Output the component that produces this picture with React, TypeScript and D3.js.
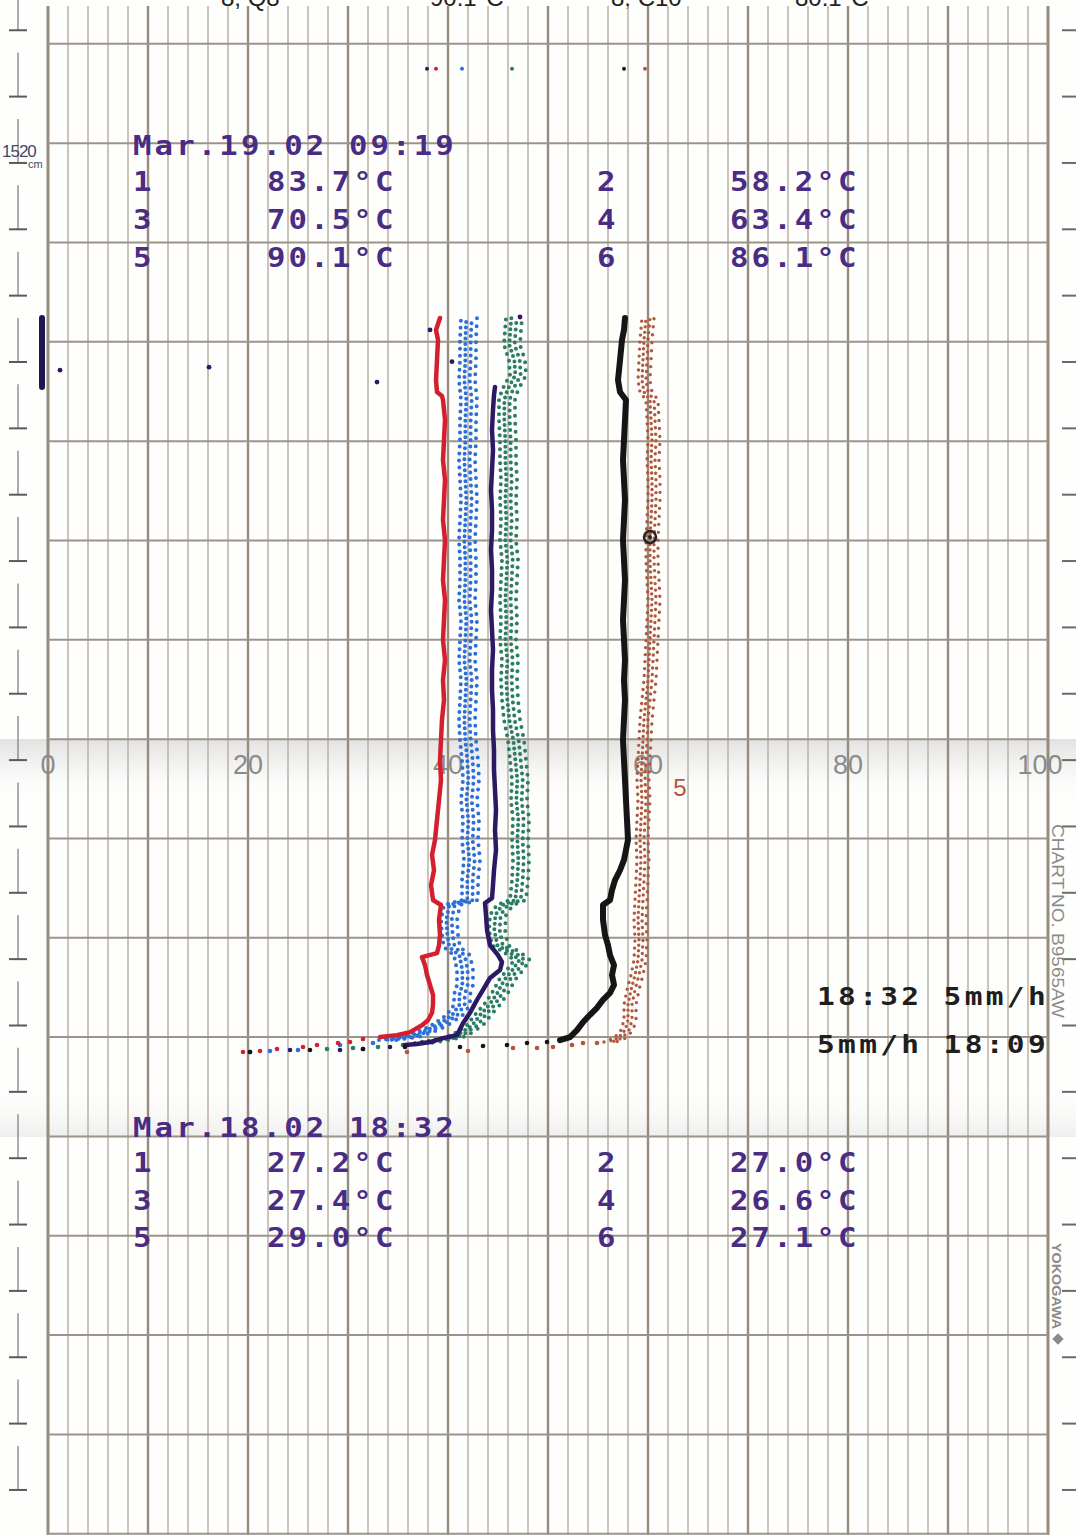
import React from "react";
import * as d3 from "d3";

const WIDTH = 1076;
const HEIGHT = 1535;

// [hours after the 18:32 start, chart span %]
type Pt = [number, number];

const scaleLabels = [0, 20, 40, 60, 80, 100];

const endStamp = "Mar.19.02 09:19";
const endReadings = [
  ["1", "83.7°C"], ["2", "58.2°C"],
  ["3", "70.5°C"], ["4", "63.4°C"],
  ["5", "90.1°C"], ["6", "86.1°C"],
];
const startStamp = "Mar.18.02 18:32";
const startReadings = [
  ["1", "27.2°C"], ["2", "27.0°C"],
  ["3", "27.4°C"], ["4", "26.6°C"],
  ["5", "29.0°C"], ["6", "27.1°C"],
];
const speedLines = ["18:32 5mm/h", "5mm/h 18:09"];
const cutOffTexts = ["8, Q8", "90.1°C", "8, C10", "80.1°C"];

// sparse samples of the fast warm-up at the start
const redStart: Pt[] = [[0, 19.5], [0.02, 21.2], [0.06, 22.9], [0.1, 25.5], [0.14, 26.9], [0.18, 29.0], [0.2, 30.2], [0.26, 31.5]];
const red: Pt[] = [
  [0.3, 33.2], [0.34, 34.9], [0.4, 36.2], [0.54, 37.4], [0.64, 38.0], [0.79, 38.4], [0.95, 38.5], [1.15, 38.5],
  [1.35, 38.2], [1.55, 37.9], [1.75, 37.7], [1.91, 37.4], [1.99, 38.9], [2.15, 39.1], [2.36, 39.2], [2.66, 39.1],
  [2.96, 39.3], [3.06, 38.5], [3.36, 38.3], [3.66, 38.6], [3.97, 38.4], [4.27, 38.7], [4.67, 38.9], [5.07, 39.1],
  [5.48, 39.3], [5.88, 39.2], [6.28, 39.3], [6.69, 39.4], [7.09, 39.6], [7.49, 39.5], [7.89, 39.7], [8.3, 39.5],
  [8.7, 39.6], [9.1, 39.7], [9.5, 39.5], [9.91, 39.6], [10.31, 39.7], [10.71, 39.5], [11.12, 39.6], [11.52, 39.7],
  [11.92, 39.5], [12.32, 39.6], [12.73, 39.7], [13.13, 39.5], [13.21, 39.4], [13.29, 38.9], [13.53, 38.8],
  [13.93, 38.9], [14.34, 39.0], [14.54, 38.8], [14.78, 39.2],
];

const blueStart: Pt[] = [[0.02, 22.2], [0.04, 25.0], [0.14, 29.2], [0.18, 32.5]];
const blue: Pt[] = [
  [0.24, 33.9], [0.3, 36.2], [0.44, 38.2], [0.58, 39.5], [0.75, 40.7], [0.95, 41.4], [1.15, 41.4], [1.35, 41.7],
  [1.65, 41.7], [1.95, 41.4], [2.11, 40.4], [2.36, 40.2], [2.66, 40.1], [2.96, 40.4], [3.06, 42.2], [3.46, 42.2],
  [3.87, 42.4], [4.27, 42.2], [4.67, 42.3], [5.07, 42.1], [5.48, 42.3], [5.88, 42.2], [6.28, 42.0], [6.69, 41.9],
  [7.09, 42.0], [7.49, 42.1], [7.89, 41.9], [8.3, 42.0], [8.7, 42.1], [9.1, 41.9], [9.5, 42.0], [9.91, 42.0],
  [10.31, 41.9], [10.71, 42.0], [11.12, 42.1], [11.52, 42.0], [11.92, 41.9], [12.32, 42.0], [12.73, 42.0],
  [13.13, 42.1], [13.53, 41.9], [13.93, 42.0], [14.34, 42.0], [14.78, 42.1],
];

const greenStart: Pt[] = [[0.06, 27.9], [0.08, 30.5], [0.1, 33.0], [0.14, 35.5]];
const green: Pt[] = [
  [0.18, 37.5], [0.24, 39.2], [0.3, 40.7], [0.38, 41.5], [0.54, 42.7], [0.75, 43.5], [0.95, 44.4], [1.19, 45.2],
  [1.45, 45.9], [1.65, 46.7], [1.85, 47.4], [2.01, 46.4], [2.15, 45.2], [2.46, 44.9], [2.76, 45.0], [2.96, 45.7],
  [3.06, 47.0], [3.46, 47.2], [3.87, 47.3], [4.27, 47.2], [4.67, 47.3], [5.07, 47.1], [5.48, 47.2], [5.88, 47.0],
  [6.28, 46.8], [6.69, 46.4], [7.09, 46.2], [7.49, 46.1], [7.89, 46.2], [8.3, 46.0], [8.7, 46.1], [9.1, 46.0],
  [9.5, 46.1], [9.91, 46.2], [10.31, 46.0], [10.71, 46.1], [11.12, 46.0], [11.52, 46.1], [11.92, 46.0],
  [12.32, 46.0], [12.73, 45.9], [13.13, 45.9], [13.33, 46.2], [13.63, 47.0], [13.93, 46.9], [14.24, 46.4],
  [14.54, 46.5], [14.78, 46.6],
];

const purpleStart: Pt[] = [[0, 20.2], [0.04, 24.2], [0.04, 29.2], [0.06, 31.5], [0.1, 34.2]];
const purple: Pt[] = [
  [0.14, 35.7], [0.16, 36.9], [0.2, 38.2], [0.28, 39.5], [0.34, 40.9], [0.58, 41.5], [0.79, 42.2], [1.05, 42.9],
  [1.25, 43.5], [1.49, 44.2], [1.65, 45.2], [1.81, 45.4], [1.95, 45.0], [2.15, 44.2], [2.46, 43.9], [2.76, 43.8],
  [3.0, 43.7], [3.1, 44.4], [3.36, 44.5], [3.66, 44.6], [4.07, 44.8], [4.47, 44.7], [4.87, 44.8], [5.28, 44.7],
  [5.68, 44.6], [6.08, 44.6], [6.48, 44.5], [6.89, 44.5], [7.29, 44.4], [7.69, 44.4], [8.1, 44.5], [8.5, 44.4],
  [8.9, 44.3], [9.3, 44.4], [9.71, 44.4], [10.11, 44.3], [10.51, 44.4], [10.91, 44.4], [11.32, 44.3],
  [11.72, 44.4], [12.12, 44.5], [12.53, 44.4], [12.93, 44.5], [13.23, 44.6], [13.39, 44.7],
];
const purpleStray: Pt[] = [[13.49, 32.9], [13.73, 1.2], [13.79, 16.1], [13.9, 40.4], [14.54, 38.2], [14.8, 47.2]];
const purpleOffscale: Pt[] = [[13.39, -0.6], [14.78, -0.6]];

const blackStart: Pt[] = [[0, 20.2], [0.04, 26.2], [0.06, 31.5], [0.1, 35.7], [0.1, 41.2], [0.12, 43.5], [0.14, 45.9], [0.18, 47.9], [0.2, 49.9]];
const black: Pt[] = [
  [0.24, 51.2], [0.3, 52.2], [0.44, 52.9], [0.6, 53.5], [0.75, 54.2], [0.89, 54.9], [1.05, 55.5], [1.19, 56.2],
  [1.35, 56.6], [1.55, 56.4], [1.75, 56.6], [1.95, 56.2], [2.15, 56.0], [2.36, 55.7], [2.66, 55.5], [2.96, 55.5],
  [3.06, 56.2], [3.26, 56.4], [3.46, 56.7], [3.66, 57.2], [3.87, 57.6], [4.27, 58.0], [4.67, 57.9], [5.07, 57.8],
  [5.48, 57.7], [5.88, 57.6], [6.28, 57.5], [6.69, 57.6], [7.09, 57.7], [7.49, 57.6], [7.89, 57.7], [8.3, 57.6],
  [8.7, 57.5], [9.1, 57.6], [9.5, 57.7], [9.91, 57.6], [10.31, 57.5], [10.71, 57.6], [11.12, 57.7], [11.52, 57.6],
  [11.92, 57.5], [12.32, 57.6], [12.73, 57.7], [13.13, 57.8], [13.29, 57.2], [13.53, 57.0], [13.93, 57.2],
  [14.34, 57.4], [14.54, 57.6], [14.78, 57.7],
];

const brownStart: Pt[] = [[0, 35.9], [0.02, 42.0], [0.08, 46.5], [0.08, 48.9], [0.1, 50.5], [0.14, 52.4], [0.18, 53.5], [0.18, 54.9]];
const brown: Pt[] = [
  [0.2, 56.2], [0.28, 57.2], [0.44, 57.9], [0.64, 58.2], [0.95, 58.2], [1.25, 58.5], [1.55, 58.9], [1.85, 59.2],
  [2.26, 59.3], [2.66, 59.2], [3.06, 59.3], [3.46, 59.4], [3.87, 59.5], [4.27, 59.4], [4.67, 59.5], [5.07, 59.6],
  [5.48, 59.5], [5.88, 59.6], [6.28, 59.7], [6.69, 59.8], [7.09, 60.0], [7.49, 60.2], [7.89, 60.3], [8.3, 60.4],
  [8.7, 60.5], [9.1, 60.6], [9.5, 60.5], [9.91, 60.4], [10.31, 60.4], [10.71, 60.5], [11.12, 60.6], [11.52, 60.6],
  [11.92, 60.5], [12.32, 60.6], [12.73, 60.5], [13.13, 60.4], [13.29, 59.8], [13.53, 59.6], [13.93, 59.7],
  [14.34, 59.8], [14.78, 60.0],
];
const brownRing: Pt = [10.37, 60.2];
const brownLabel: Pt = [5.34, 63.2];

// pen positions dotted when the header was printed
const penMarkHour = 19.8;
const penMarks = { purple: 37.9, red: 38.8, blue: 41.4, green: 46.4, black: 57.6, brown: 59.7 };

const colors = {
  red: "#d41f2e",
  blue: "#2c6fd8",
  green: "#2a7e66",
  purple: "#2b1a63",
  black: "#151515",
  brown: "#b3573c",
};

const channels = [
  { id: "green", start: greenStart, trace: green, width: 4, spread: 8 },
  { id: "blue", start: blueStart, trace: blue, width: 4, spread: 8 },
  { id: "brown", start: brownStart, trace: brown, width: 3.4, spread: 6 },
  { id: "red", start: redStart, trace: red, width: 4.5, spread: 0 },
  { id: "purple", start: purpleStart, trace: purple, width: 4.5, spread: 0 },
  { id: "black", start: blackStart, trace: black, width: 6, spread: 0 },
];

const printFont = "'DejaVu Sans Mono', 'Liberation Mono', monospace";
const sansFont = "'Liberation Sans', Arial, sans-serif";
const ink = "#4a2c84";
const SX = 1.18; // dot-matrix glyphs are wider than the mono font

function Printed({ x, y, text, size, advance, fill }: { x: number; y: number; text: string; size: number; advance: number; fill: string }) {
  const spacing = advance / SX - 0.602 * size;
  return (
    <text transform={`translate(${x},${y}) scale(${SX},1)`} fontFamily={printFont} fontWeight="bold"
      fontSize={size} fill={fill} letterSpacing={spacing}>{text}</text>
  );
}

export default function App() {
  const x = d3.scaleLinear().domain([0, 100]).range([48, 1048]);
  const y = d3.scaleLinear().domain([0, 14.78]).range([1052, 318]);
  const line = d3.line<Pt>().x((d) => x(d[1])).y((d) => y(d[0]));

  const minor = d3.range(0, 101, 2);
  const hourLines = d3.range(-5, 11).map((k) => 0.3 + 2 * k);
  const marginMarks = d3.range(-5, 18).map((k) => 362 + 66.35 * k);

  const block = (stamp: string, rows: string[][], base: number[], key: string) => (
    <g key={key}>
      <Printed x={133} y={base[0]} text={stamp} size={26} advance={21.6} fill={ink} />
      {rows.map((r, i) => {
        const row = Math.floor(i / 2);
        const col = i % 2;
        return (
          <g key={i}>
            <Printed x={col ? 597 : 133} y={base[row + 1]} text={r[0]} size={26} advance={21.6} fill={ink} />
            <Printed x={col ? 730 : 267} y={base[row + 1]} text={r[1]} size={26} advance={21.6} fill={ink} />
          </g>
        );
      })}
    </g>
  );

  return (
    <svg
      width={WIDTH}
      height={HEIGHT}
      style={{ position: "absolute", left: 0, top: 0, display: "block", background: "#fefefd" }}
    >
      <defs>
        <linearGradient id="shade1" x1="0" y1="0" x2="0" y2="1">
          <stop offset="0" stopColor="#a0a0a0" stopOpacity="0.3" />
          <stop offset="0.45" stopColor="#b4b4b4" stopOpacity="0.14" />
          <stop offset="1" stopColor="#ffffff" stopOpacity="0" />
        </linearGradient>
        <linearGradient id="shade2" x1="0" y1="0" x2="0" y2="1">
          <stop offset="0" stopColor="#ffffff" stopOpacity="0" />
          <stop offset="1" stopColor="#a8a8a8" stopOpacity="0.18" />
        </linearGradient>
      </defs>
      <rect width={WIDTH} height={HEIGHT} fill="#fefefd" />

      {/* cut-off text of the next print, only its lower edge is on the sheet */}
      <g fontFamily={sansFont} fontSize={24} fill="#222">
        {cutOffTexts.map((t, i) => (
          <text key={i} x={[221, 430, 611, 795][i]} y={6}>{t}</text>
        ))}
      </g>

      {/* scan shading */}
      <rect x={0} y={739} width={WIDTH} height={62} fill="url(#shade1)" />
      <rect x={0} y={1080} width={WIDTH} height={57} fill="url(#shade2)" />

      {/* paper grid */}
      {minor.map((v) => (
        <line key={"v" + v} x1={x(v)} x2={x(v)} y1={6} y2={HEIGHT}
          stroke={v % 10 === 0 ? "#968c7e" : "#bab1a4"}
          strokeWidth={v === 0 || v === 100 ? 3 : v % 10 === 0 ? 2.4 : 1.5} />
      ))}
      {hourLines.map((h, i) => (
        <line key={"h" + i} x1={x(0)} x2={x(100)} y1={y(h)} y2={y(h)} stroke="#9c9488" strokeWidth={2} />
      ))}

      {/* margin marks */}
      {marginMarks.map((m, i) => (
        <g key={"m" + i}>
          <line x1={18} x2={18} y1={m - 44} y2={m} stroke="#8a8a8a" strokeWidth={1.4} />
          <line x1={9} x2={27} y1={m} y2={m} stroke="#5a5a5a" strokeWidth={2} />
          <line x1={1062} x2={1076} y1={m} y2={m} stroke="#6a6a6a" strokeWidth={2} />
        </g>
      ))}
      <text x={2} y={157} fontFamily={sansFont} fontSize={17} fill="#454766" letterSpacing={-1}>1520</text>
      <text x={28} y={168} fontFamily={sansFont} fontSize={11} fill="#454766">cm</text>

      {/* scale labels */}
      <g fontFamily={sansFont} fontSize={27} fill="#8a8a8a" textAnchor="middle">
        {scaleLabels.map((v) => (
          <text key={v} x={x(v) - (v === 100 ? 8 : 0)} y={774}>{v}</text>
        ))}
      </g>

      {/* printed headers */}
      {block(endStamp, endReadings, [155, 191, 229, 267], "end")}
      {block(startStamp, startReadings, [1137, 1172, 1210, 1247], "start")}
      {speedLines.map((s, i) => (
        <Printed key={i} x={817} y={[1005, 1053][i]} text={s} size={25} advance={21.1} fill="#1e1e1e" />
      ))}

      {/* side imprint */}
      <text transform="translate(1052,824) rotate(90)" fontFamily={sansFont} fontSize={17} fill="#8a8a8a"
        textLength={194} lengthAdjust="spacingAndGlyphs">CHART NO. B9565AW</text>
      <text transform="translate(1052,1243) rotate(90)" fontFamily={sansFont} fontSize={13} fontWeight="bold"
        fill="#8a8a8a" textLength={86} lengthAdjust="spacingAndGlyphs">YOKOGAWA</text>
      <rect x={1054} y={1335} width={8} height={8} fill="#8a8a8a" transform="rotate(45,1058,1339)" />

      {/* traces */}
      {channels.map((c) => {
        const color = (colors as any)[c.id];
        const d = line(c.trace) || "";
        const cols = [-c.spread, -c.spread / 3, c.spread / 3, c.spread];
        return (
          <g key={c.id}>
            {c.spread === 0 ? (
              <path d={d} fill="none" stroke={color} strokeWidth={c.width}
                strokeLinejoin="round" strokeLinecap="round" />
            ) : (
              cols.map((o, i) => (
                <path key={i} d={d} transform={`translate(${o},0)`} fill="none" stroke={color}
                  strokeWidth={c.width} strokeLinecap="round"
                  strokeDasharray={["0 7", "0 5.5", "0 6.5", "0 8"][i]} strokeDashoffset={i * 2.2} />
              ))
            )}
            {c.start.map((p, i) => (
              <circle key={i} cx={x(p[1])} cy={y(p[0])} r={2.3} fill={color} />
            ))}
            <circle cx={x((penMarks as any)[c.id])} cy={y(penMarkHour)} r={2} fill={color} />
          </g>
        );
      })}
      <path d={line(purpleOffscale) || ""} stroke="#1e1650" strokeWidth={6} strokeLinecap="round" fill="none" />
      {purpleStray.map((p, i) => (
        <circle key={i} cx={x(p[1])} cy={y(p[0])} r={2.4} fill={colors.purple} />
      ))}
      <circle cx={x(brownRing[1])} cy={y(brownRing[0])} r={6} fill="none" stroke="#222" strokeWidth={2.5} />
      <circle cx={x(brownRing[1])} cy={y(brownRing[0])} r={2} fill="#222" />
      <text x={x(brownLabel[1])} y={y(brownLabel[0]) + 9} fontFamily={sansFont} fontSize={24}
        fill={colors.brown} textAnchor="middle">5</text>
    </svg>
  );
}
